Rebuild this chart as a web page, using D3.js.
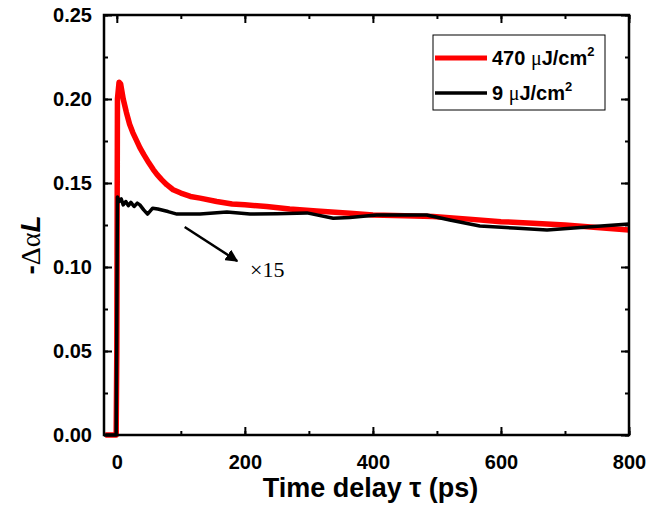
<!DOCTYPE html>
<html><head><meta charset="utf-8">
<script src="https://cdn.jsdelivr.net/npm/d3@7"></script>
<style>body{margin:0;background:#fff}svg{display:block}</style>
</head><body>
<script>
// ---- data ----
const tRed = [-18, -1, 0, 1, 3.5, 6, 10, 15, 20, 25, 30, 36, 42, 50, 57, 63, 70, 78, 88, 100, 115, 130, 156, 180, 200, 234, 270, 312, 364, 400, 450, 494, 550, 600, 650, 700, 750, 800];
const aRed = [0, 0, 0.05, 0.2, 0.210, 0.209, 0.200, 0.192, 0.185, 0.180, 0.176, 0.171, 0.167, 0.162, 0.158, 0.155, 0.152, 0.149, 0.146, 0.144, 0.142, 0.141, 0.139, 0.1375, 0.137, 0.136, 0.1345, 0.1333, 0.132, 0.131, 0.1305, 0.130, 0.1285, 0.127, 0.126, 0.125, 0.1235, 0.122];
const tBlack = [-18, -1, 0, 1, 4, 7, 10, 14, 18, 22, 27, 32, 36, 42, 48, 56, 64, 80, 94, 130, 172, 208, 250, 297, 338, 364, 406, 484, 520, 567, 620, 672, 740, 800];
const aBlack = [0, 0, 0.07, 0.1417, 0.139, 0.1405, 0.137, 0.139, 0.1365, 0.1385, 0.136, 0.138, 0.137, 0.134, 0.1315, 0.135, 0.1345, 0.133, 0.1315, 0.1315, 0.1327, 0.1315, 0.1317, 0.1322, 0.129, 0.1295, 0.131, 0.131, 0.128, 0.1244, 0.1232, 0.122, 0.124, 0.1256];
const xTicks = [0, 200, 400, 600, 800];
const yTicks = [0, 0.05, 0.10, 0.15, 0.20, 0.25];
const legendLabels = ["470 ", "9 "];

const W = 650, H = 508;
const svg = d3.select("body").append("svg").attr("width", W).attr("height", H);
const L = 104, R = 629, T = 15, B = 435;
const x = d3.scaleLinear().domain([-20, 800]).range([L, R]);
const y = d3.scaleLinear().domain([0, 0.25]).range([B, T]);

const sans = "'Liberation Sans', Arial, sans-serif";
const serif = "'Liberation Serif', 'Times New Roman', serif";

// axes
function styleAxis(g) {
  g.select(".domain").remove();
  g.selectAll(".tick line").attr("stroke", "#000").attr("stroke-width", 2);
  g.selectAll(".tick text").attr("font-family", sans).attr("font-weight", "bold").attr("font-size", 20).attr("fill", "#000");
}
const xMinor = d3.range(-0, 801, 100);
const yMinor = d3.range(0, 0.2501, 0.025);

svg.append("g").attr("transform", `translate(0,${B})`)
  .call(d3.axisBottom(x).tickValues(xMinor).tickSize(-4).tickFormat("")).call(styleAxis);
svg.append("g").attr("transform", `translate(0,${B})`)
  .call(d3.axisBottom(x).tickValues(xTicks).tickSize(-8).tickPadding(20).tickFormat(d3.format("d"))).call(styleAxis);
svg.append("g").attr("transform", `translate(0,${T})`)
  .call(d3.axisTop(x).tickValues(xMinor).tickSize(-4).tickFormat("")).call(styleAxis);
svg.append("g").attr("transform", `translate(0,${T})`)
  .call(d3.axisTop(x).tickValues(xTicks).tickSize(-8).tickFormat("")).call(styleAxis);
svg.append("g").attr("transform", `translate(${L},0)`)
  .call(d3.axisLeft(y).tickValues(yMinor).tickSize(-4).tickFormat("")).call(styleAxis);
svg.append("g").attr("transform", `translate(${L},0)`)
  .call(d3.axisLeft(y).tickValues(yTicks).tickSize(-8).tickPadding(12).tickFormat(d3.format(".2f"))).call(styleAxis);
svg.append("g").attr("transform", `translate(${R},0)`)
  .call(d3.axisRight(y).tickValues(yMinor).tickSize(-4).tickFormat("")).call(styleAxis);
svg.append("g").attr("transform", `translate(${R},0)`)
  .call(d3.axisRight(y).tickValues(yTicks).tickSize(-8).tickFormat("")).call(styleAxis);

// lines
const line = d3.line().x(d => x(d[0])).y(d => y(d[1]));
svg.append("path").datum(tRed.map((t, i) => [t, aRed[i]]))
  .attr("d", line).attr("fill", "none").attr("stroke", "#ff0000").attr("stroke-width", 5.5).attr("stroke-linejoin", "round");
svg.append("path").datum(tBlack.map((t, i) => [t, aBlack[i]]))
  .attr("d", line).attr("fill", "none").attr("stroke", "#000").attr("stroke-width", 3.5).attr("stroke-linejoin", "round");

// frame
svg.append("rect").attr("x", L).attr("y", T).attr("width", R - L).attr("height", B - T)
  .attr("fill", "none").attr("stroke", "#000").attr("stroke-width", 2.5);

// annotation arrow
const defs = svg.append("defs");
defs.append("marker").attr("id", "ah").attr("viewBox", "0 0 10 10").attr("refX", 9).attr("refY", 5)
  .attr("markerWidth", 5).attr("markerHeight", 5).attr("orient", "auto")
  .append("path").attr("d", "M0,0 L10,5 L0,10 z").attr("fill", "#000");
svg.append("line").attr("x1", x(106)).attr("y1", y(0.1238)).attr("x2", x(188)).attr("y2", y(0.1036))
  .attr("stroke", "#000").attr("stroke-width", 2.5).attr("marker-end", "url(#ah)");
svg.append("text").attr("x", x(208)).attr("y", y(0.094)).attr("font-family", serif).attr("font-size", 22).text("×15");

// axis titles
svg.append("text").attr("x", (L + R) / 2 + 4).attr("y", 497).attr("text-anchor", "middle")
  .attr("font-family", sans).attr("font-weight", "bold").attr("font-size", 27).text("Time delay τ (ps)");
const yt = svg.append("text").attr("transform", `translate(40,${(T + B) / 2 + 20}) rotate(-90)`).attr("text-anchor", "middle")
  .attr("font-size", 28);
yt.append("tspan").attr("font-family", sans).attr("font-weight", "bold").text("-");
yt.append("tspan").attr("font-family", serif).text("Δα");
yt.append("tspan").attr("font-family", sans).attr("font-weight", "bold").attr("font-style", "italic").text("L");

// legend
const lg = svg.append("g");
lg.append("rect").attr("x", 433).attr("y", 35).attr("width", 172).attr("height", 75)
  .attr("fill", "#fff").attr("stroke", "#000").attr("stroke-width", 1);
const colors = ["#ff0000", "#000"], widths = [5, 3.5], ys = [58, 93];
legendLabels.forEach((lab, i) => {
  lg.append("line").attr("x1", 435).attr("x2", 487).attr("y1", ys[i]).attr("y2", ys[i])
    .attr("stroke", colors[i]).attr("stroke-width", widths[i]);
  const t = lg.append("text").attr("x", 492).attr("y", ys[i] + 7).attr("font-size", 20).attr("fill", "#000");
  t.append("tspan").attr("font-family", sans).attr("font-weight", "bold").text(lab);
  t.append("tspan").attr("font-family", serif).text("μ");
  t.append("tspan").attr("font-family", sans).attr("font-weight", "bold").text("J/cm");
  t.append("tspan").attr("font-family", sans).attr("font-weight", "bold").attr("font-size", 13).attr("dy", -9).text("2");
});
</script>
</body></html>
